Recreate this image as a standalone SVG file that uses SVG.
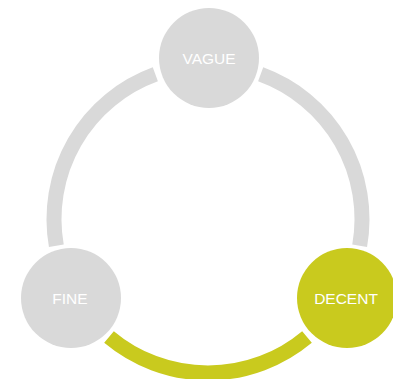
<svg xmlns="http://www.w3.org/2000/svg" width="393" height="379" viewBox="0 0 393 379">
<style>
.arc{fill:none;stroke-width:15;stroke-linecap:butt}
.g{stroke:#d9d9d9}
.y{stroke:#c9ca1e}
.node{fill:#d9d9d9}
.node.active{fill:#c9ca1e}
.lbl{font-family:"Liberation Sans",Arial,sans-serif;font-size:15.5px;fill:#ffffff;text-anchor:middle}
</style>
<rect width="393" height="379" fill="#ffffff"/>
<g id="connectors">
<path class="arc g" d="M56.34,245.74 A154,154 0 0 1 155.33,74.29"/>
<path class="arc g" d="M260.67,74.29 A154,154 0 0 1 359.66,245.74"/>
<path class="arc y" d="M306.99,336.97 A154,154 0 0 1 109.01,336.97"/>
</g>
<g id="node-vague">
<circle class="node" cx="209" cy="58" r="50"/>
<text class="lbl" x="209" y="64">VAGUE</text>
</g>
<g id="node-fine">
<circle class="node" cx="71" cy="298" r="50"/>
<text class="lbl" x="70" y="304">FINE</text>
</g>
<g id="node-decent">
<circle class="node active" cx="347" cy="298" r="50"/>
<text class="lbl" x="346" y="304">DECENT</text>
</g>
</svg>
